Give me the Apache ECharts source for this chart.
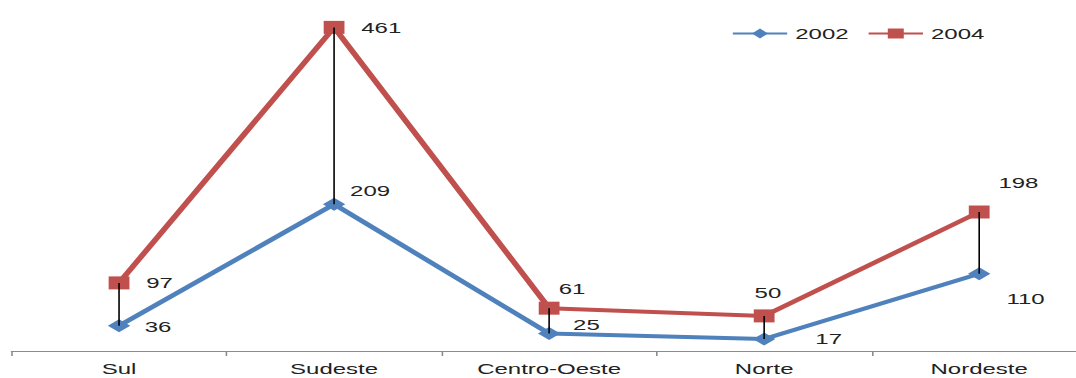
<!DOCTYPE html>
<html>
<head>
<meta charset="utf-8">
<script src="https://cdn.jsdelivr.net/npm/echarts@6/dist/echarts.min.js"></script>
<style>
  html, body { margin: 0; padding: 0; background: #fff; overflow: hidden; }
  #chart { width: 672.5px; height: 378px; transform: scaleX(1.6); transform-origin: 0 0; }
</style>
</head>
<body>
<div id="chart"></div>
<script>
const categories = ['Sul', 'Sudeste', 'Centro-Oeste', 'Norte', 'Nordeste'];
const values2002 = [36, 209, 25, 17, 110];
const values2004 = [97, 461, 61, 50, 198];
const seriesNames = ['2002', '2004'];

// label placement (layout only, offsets from point centre)
const offsets2002 = [[16, 1], [10, -14], [15, -9], [32, 0], [17, 25]];
const offsets2004 = [[17, 0], [17, 0], [6, -19], [-6, -23], [12, -29]];

const FONT = 'Liberation Sans';
const labelBase = {
  show: true, position: 'inside', align: 'left', verticalAlign: 'middle',
  color: '#222', fontFamily: FONT, fontSize: 15
};

function withLabels(vals, offs) {
  return vals.map((v, i) => ({ value: v, label: Object.assign({}, labelBase, { offset: offs[i] }) }));
}

const chart = echarts.init(document.getElementById('chart'), null, { renderer: 'svg' });
chart.setOption({
  animation: false,
  backgroundColor: '#fff',
  grid: { left: 7.2, width: 672, top: 0, bottom: 27, containLabel: false, outerBoundsMode: 'none' },
  legend: {
    left: 452, top: 21, itemWidth: 34, itemHeight: 12.5, itemGap: 11.5,
    data: seriesNames,
    textStyle: { fontFamily: FONT, fontSize: 15, color: '#222' }
  },
  xAxis: {
    type: 'category', data: categories, boundaryGap: true,
    axisLine: { lineStyle: { color: '#8c8c8c', width: 1 } },
    axisTick: { show: true, length: 5, lineStyle: { color: '#8c8c8c' } },
    axisLabel: { fontFamily: FONT, fontSize: 15, color: '#222', margin: 10, interval: 0 }
  },
  yAxis: {
    type: 'value', min: 0, max: 500, show: false,
    splitLine: { show: false }
  },
  series: [
    {
      name: seriesNames[0], type: 'line', data: withLabels(values2002, offsets2002),
      symbol: 'diamond', symbolSize: [14, 13], color: '#4F81BD',
      lineStyle: { width: 4, color: '#4F81BD' },
      itemStyle: { color: '#4F81BD' }
    },
    {
      name: seriesNames[1], type: 'line', data: withLabels(values2004, offsets2004),
      symbol: 'rect', symbolSize: 13, color: '#C0504D',
      lineStyle: { width: 4, color: '#C0504D' },
      itemStyle: { color: '#C0504D' }
    },
    {
      type: 'custom', z: 5, silent: true,
      data: categories.map((c, i) => [i, values2002[i], values2004[i]]),
      encode: { x: 0, y: [1, 2] },
      renderItem: function (params, api) {
        const a = api.coord([api.value(0), api.value(1)]);
        const b = api.coord([api.value(0), api.value(2)]);
        return { type: 'line', shape: { x1: a[0], y1: a[1], x2: b[0], y2: b[1] },
                 style: { stroke: '#000', lineWidth: 1 } };
      }
    }
  ]
});
</script>
</body>
</html>
